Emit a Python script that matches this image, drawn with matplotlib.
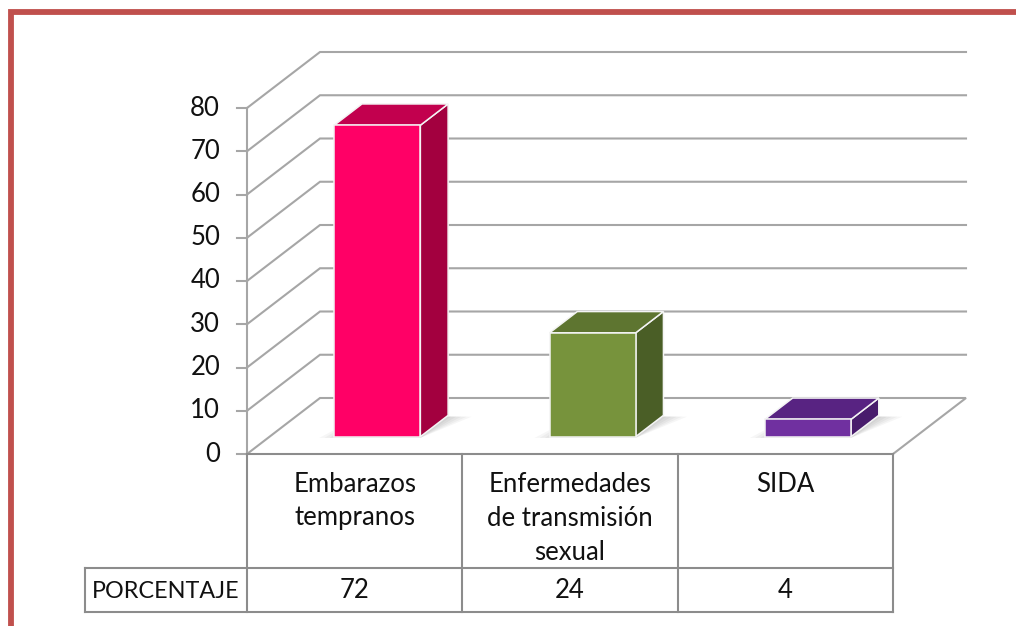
import matplotlib
matplotlib.use("Agg")
import matplotlib.pyplot as plt
from matplotlib.patches import Polygon
from matplotlib.transforms import blended_transform_factory
import numpy as np

# ---------------- data ----------------
categories = [["Embarazos", "tempranos"],
              ["Enfermedades", "de transmisión", "sexual"],
              ["SIDA"]]
values = [72, 24, 4]
table_values = ["72", "24", "4"]
row_label = "PORCENTAJE"
yticks = [0, 10, 20, 30, 40, 50, 60, 70, 80]

front_colors = ["#FF0066", "#77933C", "#7030A0"]
top_colors = ["#C2004E", "#5E7530", "#582382"]
side_colors = ["#A3003F", "#4A5E26", "#481C6C"]

FONT = ["Lato", "DejaVu Sans"]
plt.rcParams["font.family"] = FONT
FS = 18.5
TXT = "#111111"

W, H = 1016, 626
fig = plt.figure(figsize=(W / 100, H / 100), dpi=100)
fig.patch.set_facecolor("white")

# overlay in pixel coordinates (frame, layout)
pix = fig.add_axes([0, 0, 1, 1])
pix.set_xlim(0, W)
pix.set_ylim(H, 0)
pix.axis("off")

# data axes: front plane of the 3D box
x_left, x_right, y_zero, y_top = 247, 893, 454, 108
ax = fig.add_axes([x_left / W, (H - y_zero) / H, (x_right - x_left) / W, (y_zero - y_top) / H])
ax.set_xlim(0, 3)
ax.set_ylim(0, 80)
ax.axis("off")

n = len(values)
cat_px = (x_right - x_left) / n
DX = 73 / cat_px                      # depth offset in category units
DY = 56 / ((y_zero - y_top) / 80)     # depth offset in value units
grid_c = "#A6A6A6"
lw = 1.5

# red frame
red = "#C0504D"
pix.plot([10.5, 10.5, W + 5], [H + 5, 12, 12], color=red, lw=4.2,
         solid_joinstyle="miter", solid_capstyle="butt", clip_on=False)

# walls / gridlines
for v in yticks:
    if v == 0:
        ax.plot([0, DX, n + DX, n], [0, DY, DY, 0], color=grid_c, lw=lw, clip_on=False,
                solid_joinstyle="miter")
    else:
        ax.plot([0, DX, n + DX], [v, v + DY, v + DY], color=grid_c, lw=lw, clip_on=False,
                solid_joinstyle="miter")
ax.plot([0, 0], [0, 80], color=grid_c, lw=lw, clip_on=False)

# ticks and labels
tick_len = 10 / cat_px
for v in yticks:
    ax.plot([-tick_len, 0], [v, v], color=grid_c, lw=lw, clip_on=False)
    ax.text(-27 / cat_px, v, str(v), ha="right", va="center",
            fontsize=FS, color=TXT, clip_on=False)

# bars
z0, z1 = 0.31, 0.69
bw = 0.4
for i, v in enumerate(values):
    x0 = i + 0.5 - bw / 2
    x1 = i + 0.5 + bw / 2
    # soft shadow (layered, fading outward)
    for k in range(5):
        e = 0.012 * k
        shp = [(x0 + z0 * DX - 0.07 + e * 2, z0 * DY - 0.3),
               (x1 + z0 * DX, z0 * DY - 0.3),
               (x1 + z1 * DX + 0.11 - e * 2, z1 * DY - 0.3),
               (x0 + z1 * DX, z1 * DY)]
        ax.add_patch(Polygon(shp, closed=True, facecolor="#000000", alpha=0.035,
                             edgecolor="none", clip_on=False))
    front = [(x0 + z0 * DX, z0 * DY), (x1 + z0 * DX, z0 * DY),
             (x1 + z0 * DX, z0 * DY + v), (x0 + z0 * DX, z0 * DY + v)]
    top = [(x0 + z0 * DX, z0 * DY + v), (x1 + z0 * DX, z0 * DY + v),
           (x1 + z1 * DX, z1 * DY + v), (x0 + z1 * DX, z1 * DY + v)]
    side = [(x1 + z0 * DX, z0 * DY), (x1 + z1 * DX, z1 * DY),
            (x1 + z1 * DX, z1 * DY + v), (x1 + z0 * DX, z0 * DY + v)]
    for poly, col in ((side, side_colors[i]), (top, top_colors[i]), (front, front_colors[i])):
        ax.add_patch(Polygon(poly, closed=True, facecolor=col, edgecolor="#F4F4F4",
                             lw=1.1, joinstyle="miter", clip_on=False, zorder=3))

# data table (x in category units, y in pixels)
tr = blended_transform_factory(ax.transData, pix.transData)
tab_c = "#8C8C8C"
row1_top, row1_bot, row2_bot = 454, 568, 612
lbl_left = -(x_left - 85) / cat_px
for xv in range(n + 1):
    ax.plot([xv, xv], [row1_top, row2_bot], color=tab_c, lw=lw, transform=tr, clip_on=False)
ax.plot([0, n], [row1_top, row1_top], color=tab_c, lw=lw, transform=tr, clip_on=False)
ax.plot([lbl_left, n], [row1_bot, row1_bot], color=tab_c, lw=lw, transform=tr, clip_on=False)
ax.plot([lbl_left, n], [row2_bot, row2_bot], color=tab_c, lw=lw, transform=tr, clip_on=False)
ax.plot([lbl_left, lbl_left], [row1_bot, row2_bot], color=tab_c, lw=lw, transform=tr, clip_on=False)

for i, lines in enumerate(categories):
    for j, line in enumerate(lines):
        ax.text(i + 0.5, 484 + 34 * j, line, ha="center", va="center", fontsize=FS,
                color=TXT, transform=tr, clip_on=False)
    ax.text(i + 0.5, 591, table_values[i], ha="center", va="center", fontsize=FS,
            color=TXT, transform=tr, clip_on=False)
ax.text((lbl_left + 0) / 2, 591, row_label, ha="center", va="center", fontsize=16.8,
        color=TXT, transform=tr, clip_on=False)

fig.savefig("out.png", dpi=100, facecolor="white")
